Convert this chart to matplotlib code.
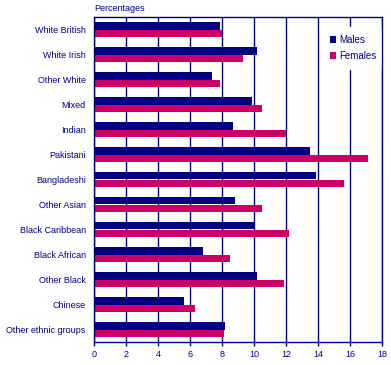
import matplotlib
matplotlib.use("Agg")
import matplotlib.pyplot as plt
import numpy as np

categories = ["White British", "White Irish", "Other White", "Mixed", "Indian",
              "Pakistani", "Bangladeshi", "Other Asian", "Black Caribbean",
              "Black African", "Other Black", "Chinese", "Other ethnic groups"]
males = [7.9, 10.2, 7.4, 9.9, 8.7, 13.5, 13.9, 8.8, 10.0, 6.8, 10.2, 5.6, 8.2]
females = [8.0, 9.3, 7.9, 10.5, 12.0, 17.1, 15.6, 10.5, 12.2, 8.5, 11.9, 6.3, 8.1]
xticks = [0, 2, 4, 6, 8, 10, 12, 14, 16, 18]

navy = "#000080"
pink = "#CC0066"

plt.rcParams['font.family'] = ['Liberation Sans', 'DejaVu Sans']

fig = plt.figure(figsize=(3.91, 3.65), dpi=100)
ax = fig.add_axes([94/391, 1-342/365, (382-94)/391, (342-17)/365])

y = np.arange(len(categories))
h = 0.3
ax.barh(y - h/2, males, height=h, color=navy, label="Males", zorder=3)
ax.barh(y + h/2, females, height=h, color=pink, label="Females", zorder=3)

fs = 6.5
ax.set_xlim(0, 18)
ax.set_ylim(len(categories) - 0.5, -0.5)
ax.set_xticks(xticks)
ax.set_xticklabels([str(t) for t in xticks], fontsize=fs, color=navy)
ax.set_yticks(y)
ax.set_yticklabels(categories, fontsize=fs, color=navy)
ax.tick_params(axis='y', length=0, pad=6)
ax.tick_params(axis='x', length=3, width=1, color=navy, pad=3)
ax.xaxis.grid(True, color=navy, linewidth=1, zorder=0)
ax.set_axisbelow(True)
for s in ax.spines.values():
    s.set_color(navy)
    s.set_linewidth(1)
    s.set_zorder(6)

ax.text(0, 1.012, "Percentages", transform=ax.transAxes, fontsize=fs, color=navy,
        ha='left', va='bottom')

lfs = 7
leg = ax.legend(loc='upper left', bbox_to_anchor=((322-94)/288, (342-27)/325),
                frameon=True, fontsize=lfs, handlelength=0.65, handleheight=0.65,
                handletextpad=0.3, borderpad=0.8, labelspacing=0.65,
                fancybox=False, borderaxespad=0)
leg.get_frame().set_edgecolor('white')
leg.get_frame().set_facecolor('white')
leg.get_frame().set_alpha(1)
for t in leg.get_texts():
    t.set_color(navy)
leg.set_zorder(5)

fig.savefig("out.png", dpi=100)
